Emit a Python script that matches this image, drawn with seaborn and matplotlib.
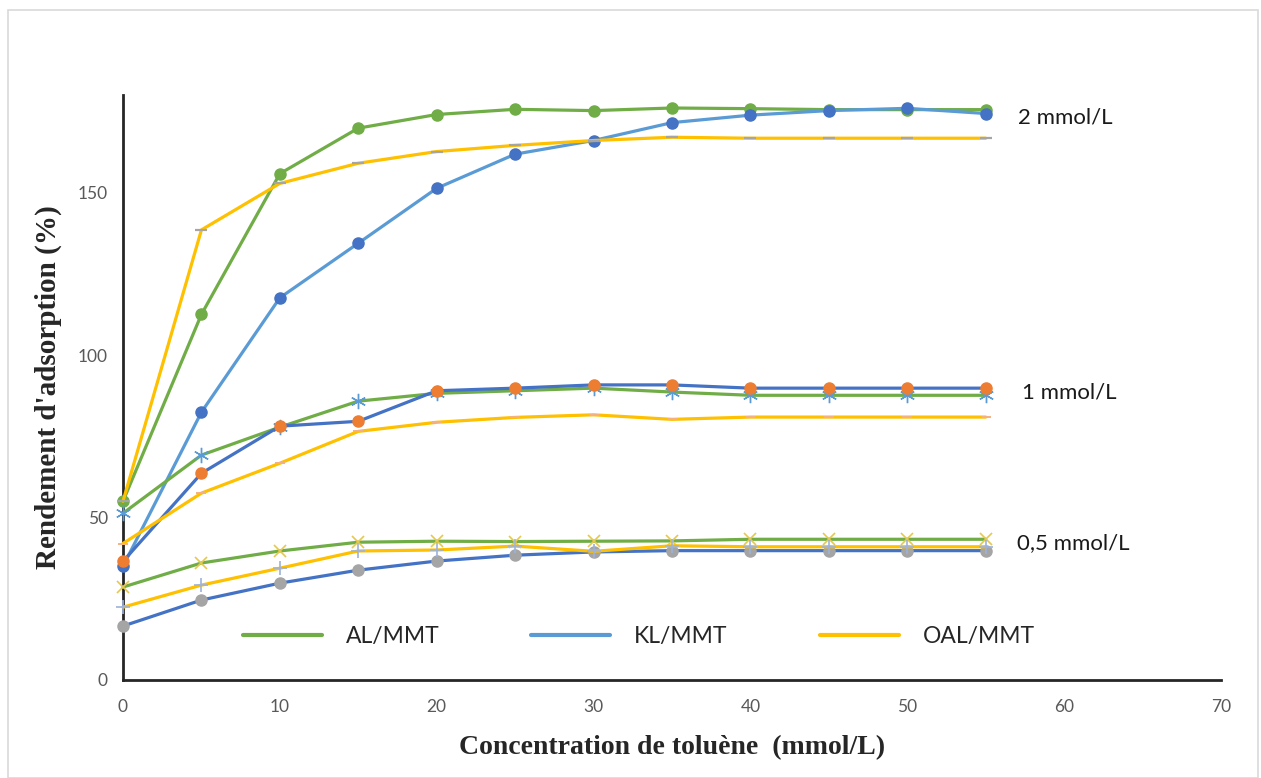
import matplotlib
matplotlib.use("Agg")
import matplotlib.pyplot as plt
from matplotlib.lines import Line2D
from matplotlib.patches import Rectangle
import seaborn as sns
import pandas as pd

# Toluene concentration (mmol/L)
concentration = [0, 5, 10, 15, 20, 25, 30, 35, 40, 45, 50, 55]

# Adsorption yield (%) for each adsorbent at three initial concentrations
al_2 = [55.0, 112.5, 155.8, 169.8, 174.0, 175.6, 175.2, 176.0, 175.8, 175.5, 175.5, 175.5]
kl_2 = [35.0, 82.4, 117.6, 134.4, 151.3, 161.8, 166.0, 171.5, 173.8, 175.2, 175.9, 174.3]
oal_2 = [55.0, 138.5, 152.8, 159.0, 162.6, 164.5, 166.0, 167.0, 166.7, 166.7, 166.7, 166.7]

al_1 = [51.3, 69.2, 77.8, 85.8, 88.2, 89.0, 89.8, 88.6, 87.6, 87.6, 87.6, 87.6]
kl_1 = [36.5, 63.6, 78.1, 79.6, 89.0, 89.8, 90.8, 90.8, 89.8, 89.8, 89.8, 89.8]
oal_1 = [42.0, 57.5, 66.7, 76.5, 79.3, 80.8, 81.6, 80.2, 80.9, 80.9, 80.9, 80.9]

al_05 = [28.6, 36.0, 39.7, 42.4, 42.7, 42.6, 42.7, 42.8, 43.3, 43.3, 43.3, 43.3]
kl_05 = [16.6, 24.6, 29.8, 33.8, 36.6, 38.4, 39.4, 39.8, 39.8, 39.8, 39.8, 39.8]
oal_05 = [22.4, 29.2, 34.4, 39.7, 40.0, 41.2, 39.6, 41.3, 41.0, 41.0, 41.0, 41.0]

series_names = ["AL/MMT", "KL/MMT", "OAL/MMT"]
level_labels = ["2 mmol/L", "1 mmol/L", "0,5 mmol/L"]

GREEN = "#70AD47"
LBLUE = "#5B9BD5"
DBLUE = "#4472C4"
ORANGE = "#ED7D31"
GREY = "#A5A5A5"
YELLOW = "#FFC000"

sns.set_style("white")
plt.rcParams["font.family"] = ["Lato", "DejaVu Sans"]

fig = plt.figure(figsize=(12.61, 7.78), dpi=100)
ax = fig.add_axes([123 / 1261, 98 / 778, (1221 - 123) / 1261, (680 - 95) / 778])

# (values, line colour, marker, marker colour, marker size, marker edge width)
curves = [
    (al_2, GREEN, "o", GREEN, 8, 1.0),
    (kl_2, LBLUE, "o", DBLUE, 8, 1.0),
    (oal_2, YELLOW, "_", GREY, 9, 1.6),
    (al_1, GREEN, (6, 2, 0), LBLUE, 11, 1.0),
    (kl_1, DBLUE, "o", ORANGE, 8, 1.0),
    (oal_1, YELLOW, "_", "#F4B183", 7, 1.4),
    (al_05, GREEN, "x", "#E6C84E", 9, 1.2),
    (kl_05, DBLUE, "o", GREY, 8, 1.0),
    (oal_05, YELLOW, "+", "#9DB3DB", 10, 1.2),
]

for vals, lc, mk, mc, ms, mew in curves:
    df = pd.DataFrame({"x": concentration, "y": vals})
    sns.lineplot(data=df, x="x", y="y", ax=ax, color=lc, linewidth=2.3,
                 marker=mk, markersize=ms, markerfacecolor=mc,
                 markeredgecolor=mc, markeredgewidth=mew, clip_on=False,
                 zorder=3)

ax.set_xlim(0, 70)
ax.set_ylim(0, 180)
ax.set_xticks(range(0, 71, 10))
ax.set_yticks([0, 50, 100, 150])
ax.tick_params(axis="both", length=0, labelsize=12.5, labelcolor="#595959")
ax.tick_params(axis="x", pad=14)
ax.tick_params(axis="y", pad=11)

for side in ["top", "right"]:
    ax.spines[side].set_visible(False)
for side in ["left", "bottom"]:
    ax.spines[side].set_color("#262626")
    ax.spines[side].set_linewidth(2.0)

ax.set_xlabel("Concentration de toluène  (mmol/L)", fontsize=20, fontweight="bold",
              family="Liberation Serif")
ax.xaxis.set_label_coords(0.5, -0.095)
ax.set_ylabel("Rendement d'adsorption (%)", fontsize=21, fontweight="bold",
              family="Liberation Serif")
ax.yaxis.set_label_coords(-0.056, 0.5)

# Concentration-level tags beside the curve ends
for txt, yv, dx in zip(level_labels, [kl_2[-1], kl_1[-1], al_05[-1]], [12, 15, 11]):
    ax.annotate(txt, xy=(56.0, yv), xytext=(dx, -3), textcoords="offset points",
                fontsize=16, va="center", ha="left", color="#1a1a1a")

handles = [Line2D([], [], color=c, linewidth=3) for c in (GREEN, LBLUE, YELLOW)]
ax.legend(handles, series_names, loc="center left", bbox_to_anchor=(0.109, 0.075),
          ncol=3, frameon=False, fontsize=16.5, handlelength=3.45, handletextpad=1.05,
          columnspacing=4.0, borderpad=0, borderaxespad=0)

fig.patches.append(Rectangle((8 / 1261, 0), 1250 / 1261, 768 / 778,
                             transform=fig.transFigure, fill=False,
                             edgecolor="#D9D9D9", linewidth=1.2))

fig.savefig("out.png", dpi=100)
